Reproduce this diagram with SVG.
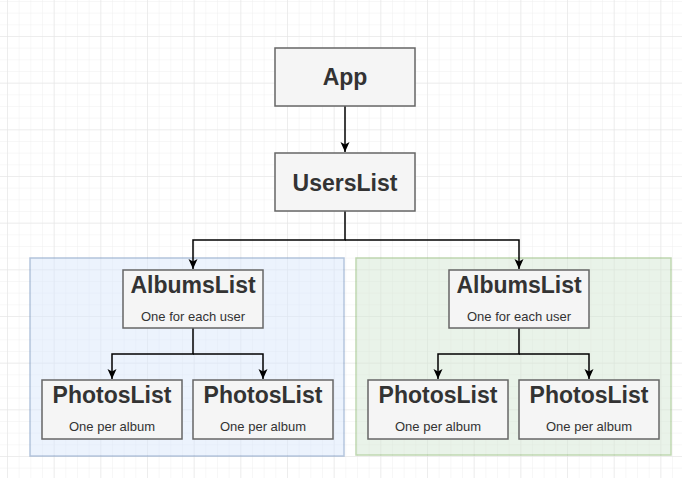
<svg xmlns="http://www.w3.org/2000/svg" width="682" height="478" viewBox="0 0 682 478">
<style>
.box{fill:#f5f5f5;stroke:#666666;stroke-width:1.5}
.t{font-family:"Liberation Sans",Arial,sans-serif;fill:#333333;text-anchor:middle}
.b{font-weight:bold;font-size:23px}
.s{font-size:13px}
.c{fill:none;stroke:#000000;stroke-width:1.5}
</style>
<defs>
<pattern id="minor" patternUnits="userSpaceOnUse" x="7" y="36" width="11.667" height="11.667">
<path d="M0,0 V11.667 M0,0 H11.667" fill="none" stroke="#f0f0f0" stroke-width="1"/>
</pattern>
<pattern id="major" patternUnits="userSpaceOnUse" x="7" y="36" width="46.667" height="46.667">
<path d="M0,0 V46.667 M0,0 H46.667" fill="none" stroke="#e4e4e4" stroke-width="1"/>
</pattern>
<marker id="arr" markerUnits="userSpaceOnUse" markerWidth="12" markerHeight="12" viewBox="0 0 12 12" refX="11" refY="6" orient="auto">
<path d="M1,1.5 L11,6 L1,10.5 L3.5,6 Z" fill="#000000"/>
</marker>
</defs>
<rect width="682" height="478" fill="#ffffff"/>
<rect width="682" height="478" fill="url(#minor)"/>
<rect width="682" height="478" fill="url(#major)"/>
<g id="group-left" opacity="0.5">
<rect x="30" y="258" width="314" height="198" fill="#dae8fc" stroke="#6c8ebf" stroke-width="1.5"/>
</g>
<g id="group-right" opacity="0.5">
<rect x="356" y="258" width="315" height="197" fill="#d5e8d4" stroke="#82b366" stroke-width="1.5"/>
</g>
<g id="connectors">
<path class="c" d="M345,106 V152" marker-end="url(#arr)"/>
<path class="c" d="M345,211 V240 H193 V269" marker-end="url(#arr)"/>
<path class="c" d="M345,240 H519 V269" marker-end="url(#arr)"/>
<path class="c" d="M193,328 V354 H112 V379" marker-end="url(#arr)"/>
<path class="c" d="M193,354 H263 V379" marker-end="url(#arr)"/>
<path class="c" d="M519,328 V354 H438 V379" marker-end="url(#arr)"/>
<path class="c" d="M519,354 H589 V379" marker-end="url(#arr)"/>
</g>
<g id="app">
<rect class="box" x="275" y="48" width="140" height="58"/>
<text class="t b" x="345" y="85">App</text>
</g>
<g id="userslist">
<rect class="box" x="275" y="153" width="140" height="58"/>
<text class="t b" x="345" y="191">UsersList</text>
</g>
<g id="albumslist-left">
<rect class="box" x="123" y="270" width="140" height="58"/>
<text class="t b" x="193" y="293">AlbumsList</text>
<text class="t s" x="193" y="321">One for each user</text>
</g>
<g id="photoslist-left-1">
<rect class="box" x="42" y="380" width="140" height="59"/>
<text class="t b" x="112" y="403">PhotosList</text>
<text class="t s" x="112" y="431">One per album</text>
</g>
<g id="photoslist-left-2">
<rect class="box" x="193" y="380" width="140" height="59"/>
<text class="t b" x="263" y="403">PhotosList</text>
<text class="t s" x="263" y="431">One per album</text>
</g>
<g id="albumslist-right">
<rect class="box" x="449" y="270" width="140" height="58"/>
<text class="t b" x="519" y="293">AlbumsList</text>
<text class="t s" x="519" y="321">One for each user</text>
</g>
<g id="photoslist-right-1">
<rect class="box" x="368" y="380" width="140" height="59"/>
<text class="t b" x="438" y="403">PhotosList</text>
<text class="t s" x="438" y="431">One per album</text>
</g>
<g id="photoslist-right-2">
<rect class="box" x="519" y="380" width="140" height="59"/>
<text class="t b" x="589" y="403">PhotosList</text>
<text class="t s" x="589" y="431">One per album</text>
</g>
</svg>
